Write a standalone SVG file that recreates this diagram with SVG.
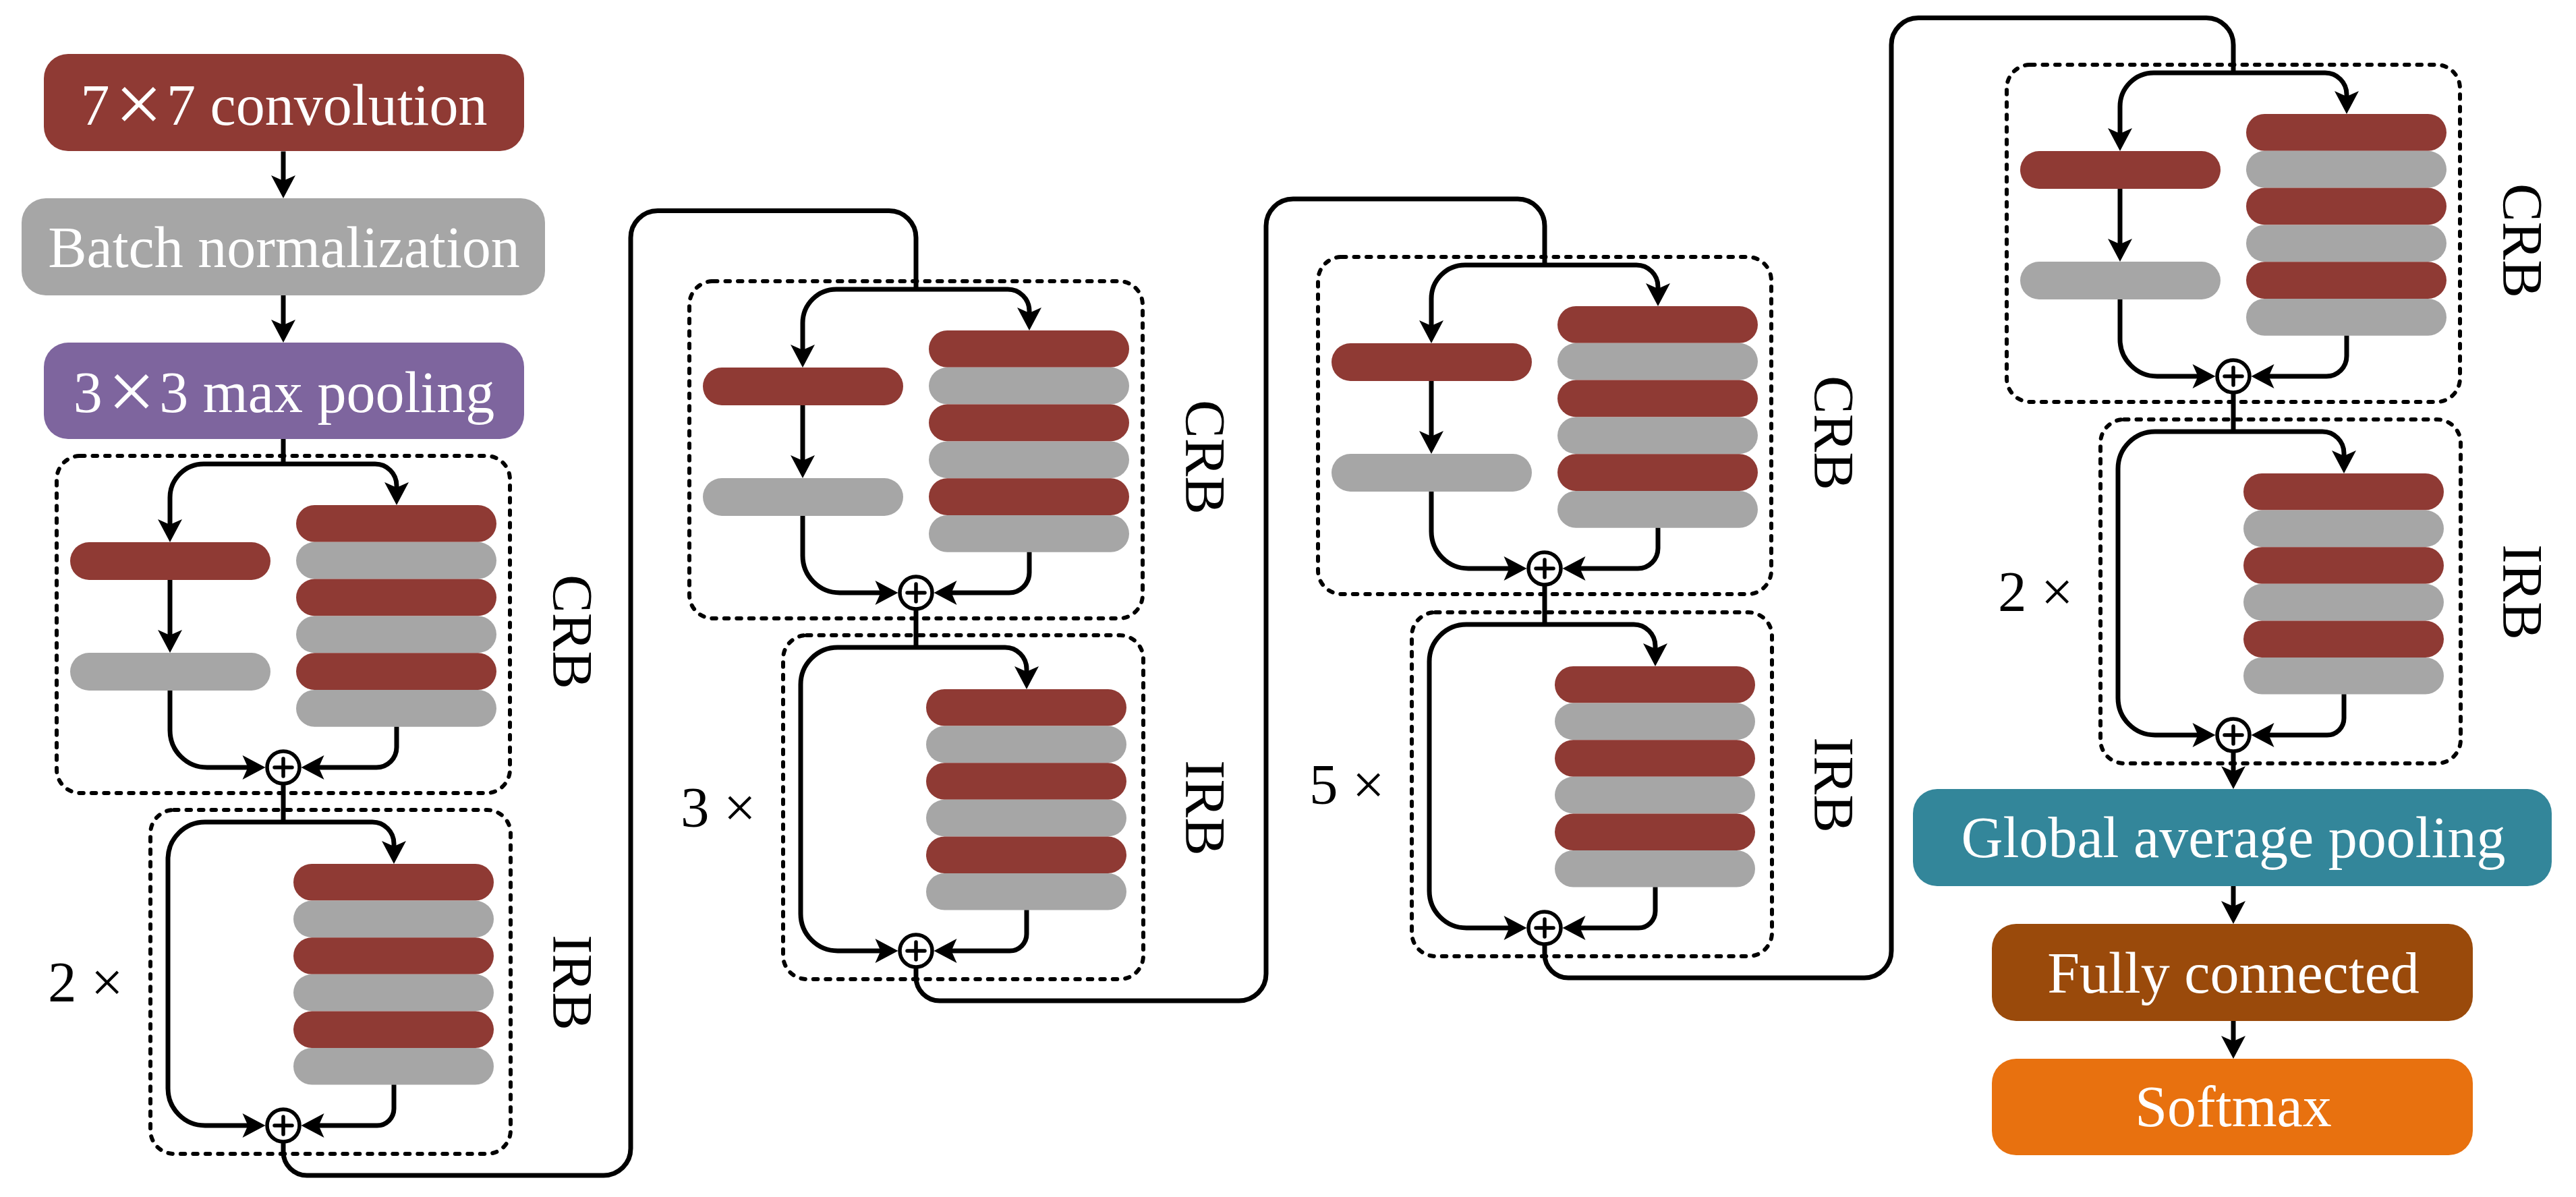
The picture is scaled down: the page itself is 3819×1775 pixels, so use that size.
<svg xmlns="http://www.w3.org/2000/svg" width="3819" height="1775" viewBox="0 0 3819 1775">
<defs>
<style>
.dash{fill:none;stroke:#000;stroke-width:6;stroke-dasharray:6.5 12;stroke-linecap:round}
.c{fill:none;stroke:#000;stroke-width:7}
.ar{marker-end:url(#ah)}
.r{fill:#8F3A34}
.g{fill:#A6A6A6}
.lbl{font-family:"Liberation Serif","Times New Roman",serif;font-size:85px;fill:#000}
.bt{font-family:"Liberation Serif","Times New Roman",serif;font-size:86px;fill:#fff;text-anchor:middle}
.sum circle{fill:#fff;stroke:#000;stroke-width:5.5}
.sum path{fill:none;stroke:#000;stroke-width:5.5;stroke-linecap:round}
</style>
<marker id="ah" viewBox="-36 -20 38 40" refX="-20" refY="0" markerWidth="38" markerHeight="40" markerUnits="userSpaceOnUse" orient="auto">
<path d="M0,0 L-34,-18 L-26,0 L-34,18 Z" fill="#000"/>
</marker>
</defs>
<rect width="3819" height="1775" fill="#fff"/>

<g id="conv">
<rect x="65" y="80" width="712" height="144" rx="36" fill="#8F3A34"/>
<text class="bt" x="421" y="184.5">7<tspan dx="8" dy="11" font-size="125">×</tspan><tspan dx="6" dy="-11">7 convolution</tspan></text>
</g>
<g id="bn">
<rect x="32" y="294" width="776" height="144" rx="36" fill="#A6A6A6"/>
<text class="bt" x="421" y="395.5">Batch normalization</text>
</g>
<g id="pool">
<rect x="65" y="508" width="712" height="143" rx="36" fill="#7E659E"/>
<text class="bt" x="421" y="611">3<tspan dx="8" dy="11" font-size="125">×</tspan><tspan dx="6" dy="-11">3 max pooling</tspan></text>
</g>

<g id="crb1" transform="translate(420,688)">
<rect class="dash" x="-336" y="-12" width="672" height="500" rx="35"/>
<rect class="r" x="-316" y="116" width="297" height="56" rx="28"/>
<rect class="g" x="-316" y="280" width="297" height="56" rx="28"/>
<rect class="r" x="19" y="61" width="297" height="54.8" rx="27.4"/>
<rect class="g" x="19" y="115.8" width="297" height="54.8" rx="27.4"/>
<rect class="r" x="19" y="170.6" width="297" height="54.8" rx="27.4"/>
<rect class="g" x="19" y="225.4" width="297" height="54.8" rx="27.4"/>
<rect class="r" x="19" y="280.2" width="297" height="54.8" rx="27.4"/>
<rect class="g" x="19" y="335" width="297" height="54.8" rx="27.4"/>
<g class="sum"><circle cx="0" cy="450" r="24"/><path d="M-13,450H13M0,437V463"/></g>
<text class="lbl" text-anchor="middle" transform="translate(400,249) rotate(90)">CRB</text>
</g>
<g id="irb1" transform="translate(420,1219)">
<rect class="dash" x="-197" y="-18" width="534" height="510" rx="35"/>
<rect class="r" x="15" y="62" width="297" height="54.6" rx="27.3"/>
<rect class="g" x="15" y="116.6" width="297" height="54.6" rx="27.3"/>
<rect class="r" x="15" y="171.2" width="297" height="54.6" rx="27.3"/>
<rect class="g" x="15" y="225.8" width="297" height="54.6" rx="27.3"/>
<rect class="r" x="15" y="280.4" width="297" height="54.6" rx="27.3"/>
<rect class="g" x="15" y="335" width="297" height="54.6" rx="27.3"/>
<g class="sum"><circle cx="0" cy="450" r="24"/><path d="M-13,450H13M0,437V463"/></g>
<text class="lbl" text-anchor="middle" transform="translate(400,238) rotate(90)">IRB</text>
<text class="lbl" x="-349" y="266">2 ×</text>
</g>

<g id="crb2" transform="translate(1358,429)">
<rect class="dash" x="-336" y="-12" width="672" height="500" rx="35"/>
<rect class="r" x="-316" y="116" width="297" height="56" rx="28"/>
<rect class="g" x="-316" y="280" width="297" height="56" rx="28"/>
<rect class="r" x="19" y="61" width="297" height="54.8" rx="27.4"/>
<rect class="g" x="19" y="115.8" width="297" height="54.8" rx="27.4"/>
<rect class="r" x="19" y="170.6" width="297" height="54.8" rx="27.4"/>
<rect class="g" x="19" y="225.4" width="297" height="54.8" rx="27.4"/>
<rect class="r" x="19" y="280.2" width="297" height="54.8" rx="27.4"/>
<rect class="g" x="19" y="335" width="297" height="54.8" rx="27.4"/>
<g class="sum"><circle cx="0" cy="450" r="24"/><path d="M-13,450H13M0,437V463"/></g>
<text class="lbl" text-anchor="middle" transform="translate(400,249) rotate(90)">CRB</text>
</g>
<g id="irb2" transform="translate(1358,960)">
<rect class="dash" x="-197" y="-18" width="534" height="510" rx="35"/>
<rect class="r" x="15" y="62" width="297" height="54.6" rx="27.3"/>
<rect class="g" x="15" y="116.6" width="297" height="54.6" rx="27.3"/>
<rect class="r" x="15" y="171.2" width="297" height="54.6" rx="27.3"/>
<rect class="g" x="15" y="225.8" width="297" height="54.6" rx="27.3"/>
<rect class="r" x="15" y="280.4" width="297" height="54.6" rx="27.3"/>
<rect class="g" x="15" y="335" width="297" height="54.6" rx="27.3"/>
<g class="sum"><circle cx="0" cy="450" r="24"/><path d="M-13,450H13M0,437V463"/></g>
<text class="lbl" text-anchor="middle" transform="translate(400,238) rotate(90)">IRB</text>
<text class="lbl" x="-349" y="266">3 ×</text>
</g>

<g id="crb3" transform="translate(2290,393)">
<rect class="dash" x="-336" y="-12" width="672" height="500" rx="35"/>
<rect class="r" x="-316" y="116" width="297" height="56" rx="28"/>
<rect class="g" x="-316" y="280" width="297" height="56" rx="28"/>
<rect class="r" x="19" y="61" width="297" height="54.8" rx="27.4"/>
<rect class="g" x="19" y="115.8" width="297" height="54.8" rx="27.4"/>
<rect class="r" x="19" y="170.6" width="297" height="54.8" rx="27.4"/>
<rect class="g" x="19" y="225.4" width="297" height="54.8" rx="27.4"/>
<rect class="r" x="19" y="280.2" width="297" height="54.8" rx="27.4"/>
<rect class="g" x="19" y="335" width="297" height="54.8" rx="27.4"/>
<g class="sum"><circle cx="0" cy="450" r="24"/><path d="M-13,450H13M0,437V463"/></g>
<text class="lbl" text-anchor="middle" transform="translate(400,249) rotate(90)">CRB</text>
</g>
<g id="irb3" transform="translate(2290,926)">
<rect class="dash" x="-197" y="-18" width="534" height="510" rx="35"/>
<rect class="r" x="15" y="62" width="297" height="54.6" rx="27.3"/>
<rect class="g" x="15" y="116.6" width="297" height="54.6" rx="27.3"/>
<rect class="r" x="15" y="171.2" width="297" height="54.6" rx="27.3"/>
<rect class="g" x="15" y="225.8" width="297" height="54.6" rx="27.3"/>
<rect class="r" x="15" y="280.4" width="297" height="54.6" rx="27.3"/>
<rect class="g" x="15" y="335" width="297" height="54.6" rx="27.3"/>
<g class="sum"><circle cx="0" cy="450" r="24"/><path d="M-13,450H13M0,437V463"/></g>
<text class="lbl" text-anchor="middle" transform="translate(400,238) rotate(90)">IRB</text>
<text class="lbl" x="-349" y="266">5 ×</text>
</g>

<g id="crb4" transform="translate(3311,108)">
<rect class="dash" x="-336" y="-12" width="672" height="500" rx="35"/>
<rect class="r" x="-316" y="116" width="297" height="56" rx="28"/>
<rect class="g" x="-316" y="280" width="297" height="56" rx="28"/>
<rect class="r" x="19" y="61" width="297" height="54.8" rx="27.4"/>
<rect class="g" x="19" y="115.8" width="297" height="54.8" rx="27.4"/>
<rect class="r" x="19" y="170.6" width="297" height="54.8" rx="27.4"/>
<rect class="g" x="19" y="225.4" width="297" height="54.8" rx="27.4"/>
<rect class="r" x="19" y="280.2" width="297" height="54.8" rx="27.4"/>
<rect class="g" x="19" y="335" width="297" height="54.8" rx="27.4"/>
<g class="sum"><circle cx="0" cy="450" r="24"/><path d="M-13,450H13M0,437V463"/></g>
<text class="lbl" text-anchor="middle" transform="translate(400,249) rotate(90)">CRB</text>
</g>
<g id="irb4" transform="translate(3311,640)">
<rect class="dash" x="-197" y="-18" width="534" height="510" rx="35"/>
<rect class="r" x="15" y="62" width="297" height="54.6" rx="27.3"/>
<rect class="g" x="15" y="116.6" width="297" height="54.6" rx="27.3"/>
<rect class="r" x="15" y="171.2" width="297" height="54.6" rx="27.3"/>
<rect class="g" x="15" y="225.8" width="297" height="54.6" rx="27.3"/>
<rect class="r" x="15" y="280.4" width="297" height="54.6" rx="27.3"/>
<rect class="g" x="15" y="335" width="297" height="54.6" rx="27.3"/>
<g class="sum"><circle cx="0" cy="450" r="24"/><path d="M-13,450H13M0,437V463"/></g>
<text class="lbl" text-anchor="middle" transform="translate(400,238) rotate(90)">IRB</text>
<text class="lbl" x="-349" y="266">2 ×</text>
</g>

<g id="gap">
<rect x="2836" y="1170" width="947" height="144" rx="36" fill="#33869A"/>
<text class="bt" x="3311" y="1271">Global average pooling</text>
</g>
<g id="fc">
<rect x="2953" y="1370" width="713" height="144" rx="36" fill="#9A4A0B"/>
<text class="bt" x="3311" y="1471.5">Fully connected</text>
</g>
<g id="softmax">
<rect x="2953" y="1570" width="713" height="143" rx="36" fill="#E8710F"/>
<text class="bt" x="3311" y="1669.5">Softmax</text>
</g>

<g id="connectors">
<path class="c ar" d="M420,224.5V274"/>
<path class="c ar" d="M420,438V488"/>
<path class="c" d="M420,651V688"/>
<g transform="translate(420,688)">
<path class="c ar" d="M0,0H-118A50,50 0 0 0 -168,50V96"/>
<path class="c ar" d="M0,0H136A32,32 0 0 1 168,32V41"/>
<path class="c ar" d="M-168,172V260"/>
<path class="c ar" d="M-168,336V395A55,55 0 0 0 -113,450H-46.5"/>
<path class="c ar" d="M168,389.8V420A30,30 0 0 1 138,450H46.5"/>
<path class="c" d="M0,474V531"/>
</g>
<g transform="translate(420,1219)">
<path class="c ar" d="M0,0H132A32,32 0 0 1 164,32V42"/>
<path class="c ar" d="M0,0H-116A55,55 0 0 0 -171,55V395A55,55 0 0 0 -116,450H-46.5"/>
<path class="c ar" d="M164,389.6V425A25,25 0 0 1 139,450H46.5"/>
</g>
<path class="c" d="M420,1693V1708A35,35 0 0 0 455,1743H895A40,40 0 0 0 935,1703V352.6A40,40 0 0 1 975,312.6H1318A40,40 0 0 1 1358,352.6V429"/>

<g transform="translate(1358,429)">
<path class="c ar" d="M0,0H-118A50,50 0 0 0 -168,50V96"/>
<path class="c ar" d="M0,0H136A32,32 0 0 1 168,32V41"/>
<path class="c ar" d="M-168,172V260"/>
<path class="c ar" d="M-168,336V395A55,55 0 0 0 -113,450H-46.5"/>
<path class="c ar" d="M168,389.8V420A30,30 0 0 1 138,450H46.5"/>
<path class="c" d="M0,474V531"/>
</g>
<g transform="translate(1358,960)">
<path class="c ar" d="M0,0H132A32,32 0 0 1 164,32V42"/>
<path class="c ar" d="M0,0H-116A55,55 0 0 0 -171,55V395A55,55 0 0 0 -116,450H-46.5"/>
<path class="c ar" d="M164,389.6V425A25,25 0 0 1 139,450H46.5"/>
</g>
<path class="c" d="M1358,1434V1449A35,35 0 0 0 1393,1484H1837A40,40 0 0 0 1877,1444V335A40,40 0 0 1 1917,295H2250A40,40 0 0 1 2290,335V393"/>

<g transform="translate(2290,393)">
<path class="c ar" d="M0,0H-118A50,50 0 0 0 -168,50V96"/>
<path class="c ar" d="M0,0H136A32,32 0 0 1 168,32V41"/>
<path class="c ar" d="M-168,172V260"/>
<path class="c ar" d="M-168,336V395A55,55 0 0 0 -113,450H-46.5"/>
<path class="c ar" d="M168,389.8V420A30,30 0 0 1 138,450H46.5"/>
<path class="c" d="M0,474V533"/>
</g>
<g transform="translate(2290,926)">
<path class="c ar" d="M0,0H132A32,32 0 0 1 164,32V42"/>
<path class="c ar" d="M0,0H-116A55,55 0 0 0 -171,55V395A55,55 0 0 0 -116,450H-46.5"/>
<path class="c ar" d="M164,389.6V425A25,25 0 0 1 139,450H46.5"/>
</g>
<path class="c" d="M2290,1400V1415A35,35 0 0 0 2325,1450H2764A40,40 0 0 0 2804,1410V66.5A40,40 0 0 1 2844,26.5H3271A40,40 0 0 1 3311,66.5V108"/>

<g transform="translate(3311,108)">
<path class="c ar" d="M0,0H-118A50,50 0 0 0 -168,50V96"/>
<path class="c ar" d="M0,0H136A32,32 0 0 1 168,32V41"/>
<path class="c ar" d="M-168,172V260"/>
<path class="c ar" d="M-168,336V395A55,55 0 0 0 -113,450H-46.5"/>
<path class="c ar" d="M168,389.8V420A30,30 0 0 1 138,450H46.5"/>
<path class="c" d="M0,474V532"/>
</g>
<g transform="translate(3311,640)">
<path class="c ar" d="M0,0H132A32,32 0 0 1 164,32V42"/>
<path class="c ar" d="M0,0H-116A55,55 0 0 0 -171,55V395A55,55 0 0 0 -116,450H-46.5"/>
<path class="c ar" d="M164,389.6V425A25,25 0 0 1 139,450H46.5"/>
<path class="c ar" d="M0,474V510"/>
</g>
<path class="c ar" d="M3311,1314V1350"/>
<path class="c ar" d="M3311,1514V1550"/>
</g>
</svg>
